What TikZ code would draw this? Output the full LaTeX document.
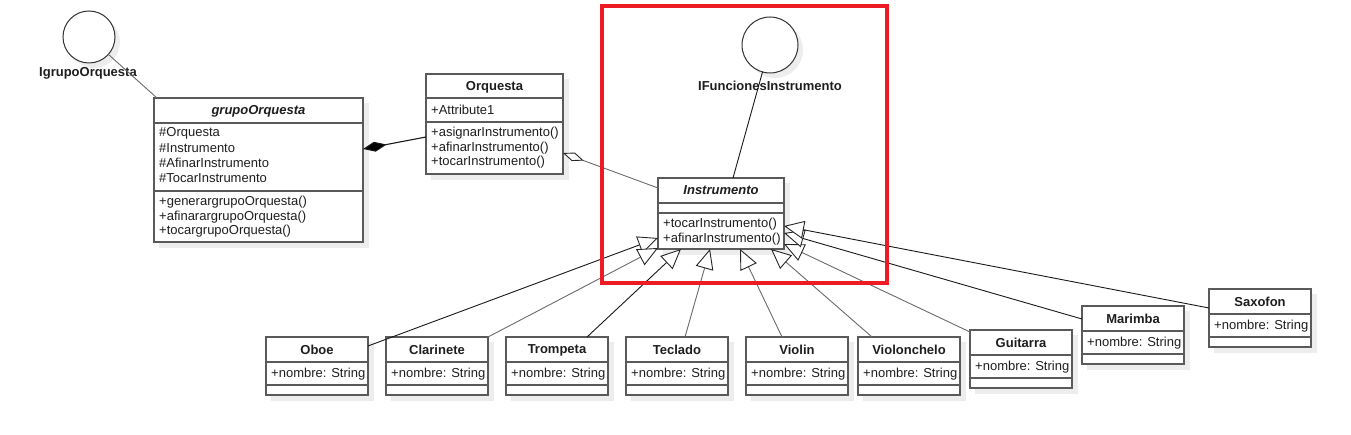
\documentclass[tikz,border=0pt]{standalone}
\usepackage{fontspec}
\setmainfont{Liberation Sans}
\usetikzlibrary{arrows.meta,calc}
\definecolor{hlred}{HTML}{ED1C24}
\definecolor{boxline}{HTML}{5A5A5A}
\definecolor{shadowc}{HTML}{EDEDED}
\definecolor{txt}{HTML}{1E1E1E}
\definecolor{lgray}{HTML}{6A6A6A}
\begin{document}
\begin{tikzpicture}[x=1pt,y=-1pt,
  cls/.style={draw=boxline, line width=1.2pt, fill=white, anchor=north west, inner sep=0pt, outer sep=0pt},
  sep/.style={draw=boxline, line width=1.2pt},
  ttl/.style={font=\fontsize{13}{15}\selectfont\bfseries, text=txt, inner sep=0pt},
  ittl/.style={font=\fontsize{13}{15}\selectfont\bfseries\itshape, text=txt, inner sep=0pt},
  mem/.style={font=\fontsize{13}{15}\selectfont, text=txt, anchor=west, inner sep=0pt},
  iface/.style={circle, draw=black!80, line width=1pt, fill=white, inner sep=0pt, outer sep=0pt},
  ilabel/.style={font=\fontsize{13}{15}\selectfont\bfseries, text=txt, inner sep=0pt},
  gen/.style={-{Triangle[length=20pt,width=18pt,fill=white,color=black!85]}, line width=0.9pt},
  dark/.style={draw=black!90},
  grey/.style={draw=lgray},
  hl/.style={draw=hlred, line width=4pt, anchor=north west, inner sep=0pt, outer sep=0pt}
]
\useasboundingbox (0,0) rectangle (1351,435);

% ---------- shadows ----------
\fill[shadowc] (159,103) rectangle (369,248);
\fill[shadowc] (431,79) rectangle (569,180);
\fill[shadowc] (663,183) rectangle (790,255);
\fill[shadowc] (94,42) circle (26);
\fill[shadowc] (775,50) circle (28);
\foreach \x/\y in {266/337,386/337,506/337,626/337,746/337,858/337,970/330,1082/306,1209/289}
  \fill[shadowc] (\x+5,\y+5) rectangle (\x+108,\y+64);

% ---------- interfaces ----------
\node[iface, minimum size=52pt] (ig) at (89,37) {};
\node[ilabel] (igl) at (88,73) {IgrupoOrquesta};
\node[iface, minimum size=56pt] (ifn) at (770,45) {};
\node[ilabel] (ifnl) at (770,86) {IFuncionesInstrumento};

% ---------- grupoOrquesta ----------
\node[cls, minimum width=209pt, minimum height=144pt] (grupo) at (154,98) {};
\draw[sep] ($(grupo.north west)+(0,25)$) -- ($(grupo.north east)+(0,25)$);
\draw[sep] ($(grupo.north west)+(0,93)$) -- ($(grupo.north east)+(0,93)$);
\node[ittl] (grupo-t) at ($(grupo.north)+(0,13)$) {grupoOrquesta};
\node[mem] (grupo-a1) at ($(grupo.north west)+(5,35)$) {\#Orquesta};
\node[mem] (grupo-a2) at ($(grupo.north west)+(5,50)$) {\#Instrumento};
\node[mem] (grupo-a3) at ($(grupo.north west)+(5,65)$) {\#AfinarInstrumento};
\node[mem] (grupo-a4) at ($(grupo.north west)+(5,80)$) {\#TocarInstrumento};
\node[mem] (grupo-m1) at ($(grupo.north west)+(5,104)$) {+generargrupoOrquesta()};
\node[mem] (grupo-m2) at ($(grupo.north west)+(5,119)$) {+afinarargrupoOrquesta()};
\node[mem] (grupo-m3) at ($(grupo.north west)+(5,133)$) {+tocargrupoOrquesta()};

% ---------- Orquesta ----------
\node[cls, minimum width=137pt, minimum height=100pt] (orq) at (426,74) {};
\draw[sep] ($(orq.north west)+(0,24)$) -- ($(orq.north east)+(0,24)$);
\draw[sep] ($(orq.north west)+(0,48)$) -- ($(orq.north east)+(0,48)$);
\node[ttl] (orq-t) at ($(orq.north)+(0,13)$) {Orquesta};
\node[mem] (orq-a1) at ($(orq.north west)+(5,36)$) {+Attribute1};
\node[mem] (orq-m1) at ($(orq.north west)+(5,59)$) {+asignarInstrumento()};
\node[mem] (orq-m2) at ($(orq.north west)+(5,74)$) {+afinarInstrumento()};
\node[mem] (orq-m3) at ($(orq.north west)+(5,88)$) {+tocarInstrumento()};

% ---------- Instrumento ----------
\node[cls, minimum width=126pt, minimum height=71pt] (instr) at (658,178) {};
\draw[sep] ($(instr.north west)+(0,25)$) -- ($(instr.north east)+(0,25)$);
\draw[sep] ($(instr.north west)+(0,35)$) -- ($(instr.north east)+(0,35)$);
\node[ittl] (instr-t) at ($(instr.north)+(0,12)$) {Instrumento};
\node[mem] (instr-m1) at ($(instr.north west)+(5,46)$) {+tocarInstrumento()};
\node[mem] (instr-m2) at ($(instr.north west)+(5,61)$) {+afinarInstrumento()};

% ---------- concrete instruments ----------
\foreach \nm/\lab/\x/\y in {oboe/Oboe/266/337, clar/Clarinete/386/337, trom/Trompeta/506/337,
    tecl/Teclado/626/337, viol/Violin/746/337, vchl/Violonchelo/858/337,
    guit/Guitarra/970/330, mari/Marimba/1082/306, saxo/Saxofon/1209/289}{
  \node[cls, minimum width=102pt, minimum height=58pt] (\nm) at (\x,\y) {};
  \draw[sep] ($(\nm.north west)+(0,25)$) -- ($(\nm.north east)+(0,25)$);
  \draw[sep] ($(\nm.north west)+(0,48)$) -- ($(\nm.north east)+(0,48)$);
  \node[ttl] (\nm-t) at ($(\nm.north)+(0,13)$) {\lab};
  \node[mem] (\nm-a) at ($(\nm.north west)+(5,37)$) {+nombre: String};
}

% ---------- interface realisations ----------
\draw[grey, line width=0.9pt] (ig) -- ($(grupo.north west)+(3,0)$);
\draw[dark, line width=0.9pt] (ifn) -- ($(instr.north west)+(75,0)$);

% ---------- composition / aggregation ----------
\draw[dark, line width=1.1pt, {Diamond[length=24pt,width=10pt,fill=black]}-]
  ($(grupo.north east)+(0,51)$) -- ($(orq.north west)+(0,63)$);
\draw[grey, line width=0.9pt, {Diamond[length=22pt,width=9pt,fill=white,color=black!85]}-]
  ($(orq.north east)+(0,79)$) -- ($(instr.north west)+(0,10)$);

% ---------- generalisations ----------
\draw[gen, dark] ($(oboe.north east)+(0,9)$) -- ($(instr.south west)+(0,-11)$);
\draw[gen, grey] (clar.north east) -- ($(instr.south west)+(0,-1)$);
\draw[gen, dark] ($(trom.north west)+(81,0)$) -- ($(instr.south west)+(23,0)$);
\draw[gen, grey] ($(tecl.north west)+(59,0)$) -- ($(instr.south west)+(52,0)$);
\draw[gen, grey] ($(viol.north west)+(36,0)$) -- ($(instr.south west)+(82,0)$);
\draw[gen, grey] ($(vchl.north west)+(14,0)$) -- ($(instr.south west)+(113,0)$);
\draw[gen, grey] ($(guit.north west)+(0,2)$) -- ($(instr.south east)+(0,-5)$);
\draw[gen, dark] ($(mari.north west)+(0,13)$) -- ($(instr.south east)+(0,-16)$);
\draw[gen, dark] ($(saxo.north west)+(0,19)$) -- ($(instr.south east)+(0,-23)$);

% ---------- highlight ----------
\node[hl, minimum width=285pt, minimum height=277pt] (hlbox) at (602,6) {};
\end{tikzpicture}
\end{document}
